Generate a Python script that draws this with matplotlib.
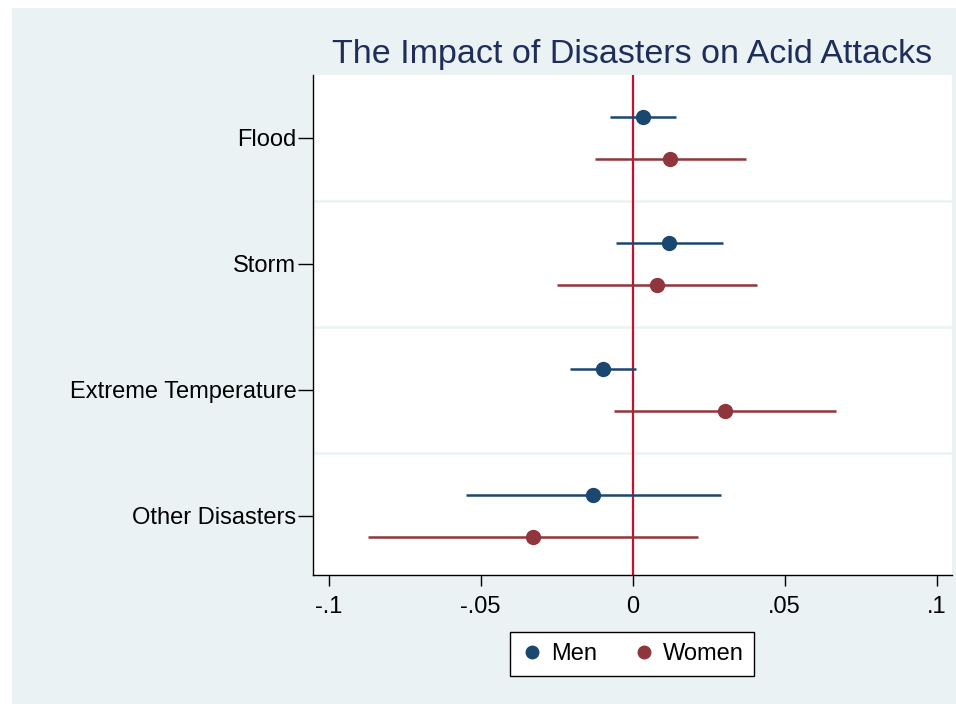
import matplotlib.pyplot as plt
from matplotlib.lines import Line2D
from matplotlib.patches import Rectangle
import numpy as np

# ── Data (coefficients and 95% CIs) ─────────────────────────────────────────
categories = ["Flood", "Storm", "Extreme Temperature", "Other Disasters"]

men_coef = [0.0034, 0.0120, -0.0097, -0.0130]
men_lo = [-0.0074, -0.0055, -0.0206, -0.0549]
men_hi = [0.0143, 0.0297, 0.0011, 0.0290]

women_coef = [0.0123, 0.0080, 0.0304, -0.0329]
women_lo = [-0.0125, -0.0249, -0.0061, -0.0870]
women_hi = [0.0372, 0.0410, 0.0669, 0.0214]

x_ticks = [-0.1, -0.05, 0, 0.05, 0.1]
x_ticklabels = ["-.1", "-.05", "0", ".05", ".1"]

# ── Style ────────────────────────────────────────────────────────────────────
plt.rcParams.update({
    "font.family": ["Liberation Sans", "DejaVu Sans"],
    "font.size": 17,
})

c_men = "#1a476f"
c_women = "#90353b"
c_zero = "#c8102e"
c_bg = "#eaf2f3"
c_title = "#1e2d5a"

fig = plt.figure(figsize=(9.56, 7.04), dpi=100)
fig.patch.set_facecolor("white")
fig.patches.append(Rectangle((12 / 956, 0), 1 - 12 / 956, 1 - 8 / 704,
                             transform=fig.transFigure, facecolor=c_bg,
                             edgecolor="none", zorder=-10))

ax = fig.add_axes([313 / 956, 1 - 575 / 704, (952 - 313) / 956, 500 / 704])
ax.set_zorder(5)
ax.set_facecolor("white")

ypos = np.arange(len(categories))[::-1] + 1.0
off = 0.167

ax.axvline(0, color=c_zero, linewidth=1.6, zorder=2)
for g in [1.5, 2.5, 3.5]:
    ax.axhline(g, color=c_bg, linewidth=1.8, zorder=1)

ax.hlines(ypos + off, men_lo, men_hi, color=c_men, linewidth=1.8, zorder=3)
ax.plot(men_coef, ypos + off, "o", color=c_men, markersize=10, zorder=4)
ax.hlines(ypos - off, women_lo, women_hi, color=c_women, linewidth=1.8, zorder=3)
ax.plot(women_coef, ypos - off, "o", color=c_women, markersize=10, zorder=4)

ax.set_xlim(-0.1052, 0.1051)
ax.set_ylim(0.53, 4.5)
ax.set_yticks(ypos)
ax.set_yticklabels(categories, fontsize=17)
ax.set_xticks(x_ticks)
ax.set_xticklabels(x_ticklabels, fontsize=17)
ax.tick_params(axis="both", direction="out", width=1, colors="black")
ax.tick_params(axis="y", length=11, pad=1)
ax.tick_params(axis="x", length=8, pad=7)

for s in ["top", "right"]:
    ax.spines[s].set_visible(False)
for s in ["left", "bottom"]:
    ax.spines[s].set_color("black")
    ax.spines[s].set_linewidth(1)

ax.set_title("The Impact of Disasters on Acid Attacks", color=c_title,
             fontsize=24.5, pad=9)

handles = [
    Line2D([], [], marker="o", linestyle="none", color=c_men, markersize=9, label="Men"),
    Line2D([], [], marker="o", linestyle="none", color=c_women, markersize=9, label="Women"),
]
leg = fig.legend(handles=handles, loc="center", bbox_to_anchor=(632 / 956, 1 - 654 / 704),
                 ncol=2, frameon=True, fancybox=False, fontsize=17,
                 handletextpad=0.3, columnspacing=1.5, borderpad=0.45,
                 handlelength=1.0, framealpha=1, facecolor="white")
leg.get_frame().set_edgecolor("black")
leg.get_frame().set_linewidth(1)

fig.savefig("out.png", dpi=100, facecolor=fig.get_facecolor())
